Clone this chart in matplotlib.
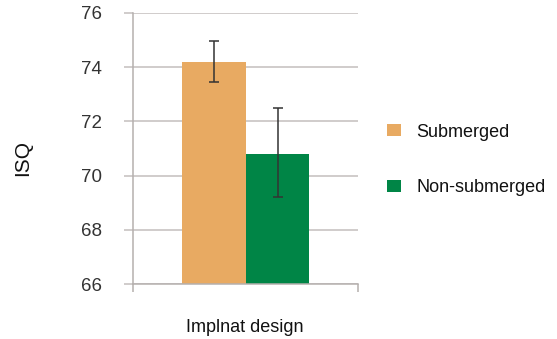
import matplotlib
matplotlib.use("Agg")
import matplotlib.pyplot as plt

plt.rcParams['font.family'] = ['Liberation Sans', 'DejaVu Sans']

groups = ["Submerged", "Non-submerged"]
means = [74.2, 70.8]
lower = [73.45, 69.2]
upper = [74.95, 72.5]
colors = ["#E8AA62", "#008546"]
yticks = [66, 68, 70, 72, 74, 76]

fig = plt.figure(figsize=(5.57, 3.39), dpi=100)
ax = fig.add_axes([0.2388, 0.1622, 0.4039, 0.7995])

width = 0.283
start = 0.218
for i, (g, m) in enumerate(zip(groups, means)):
    x = start + i * width
    ax.bar(x, m - 66, bottom=66, width=width, align='edge', color=colors[i], label=g, zorder=2)
    ax.errorbar(x + width / 2, m, yerr=[[m - lower[i]], [upper[i] - m]],
                fmt='none', ecolor='#333333', elinewidth=1.1, capsize=3.8, capthick=1.1, zorder=3)

ax.set_xlim(0, 1)
ax.set_ylim(66, 76)
ax.set_yticks(yticks)
ax.set_xticks([0, 1])
ax.set_xticklabels(["", ""])
ax.yaxis.grid(True, color='#C4BFBD', linewidth=1.1, zorder=0)
for s in ['top', 'right']:
    ax.spines[s].set_visible(False)
ax.spines['left'].set_color('#B5B0AE')
ax.spines['bottom'].set_color('#B5B0AE')
ax.spines['left'].set_linewidth(1.1)
ax.spines['bottom'].set_linewidth(1.1)
ax.tick_params(axis='y', length=6.5, width=1.1, color='#C4BFBD', labelsize=13.5, labelcolor='#333333', pad=16)
ax.tick_params(axis='x', length=6, width=1.1, color='#B5B0AE')

fig.text(0.041, 0.534, "ISQ", rotation=90, ha='center', va='center', fontsize=15, color='#111111')
fig.text(0.44, 0.022, "Implnat design", ha='center', fontsize=13, color='#111111')

leg = fig.legend(loc='center left', bbox_to_anchor=(0.666, 0.528), frameon=False,
                 handlelength=0.75, handleheight=0.65, handletextpad=0.85,
                 labelspacing=2.15, fontsize=13)
for t in leg.get_texts():
    t.set_color('#111111')

fig.savefig("out.png", dpi=100)
